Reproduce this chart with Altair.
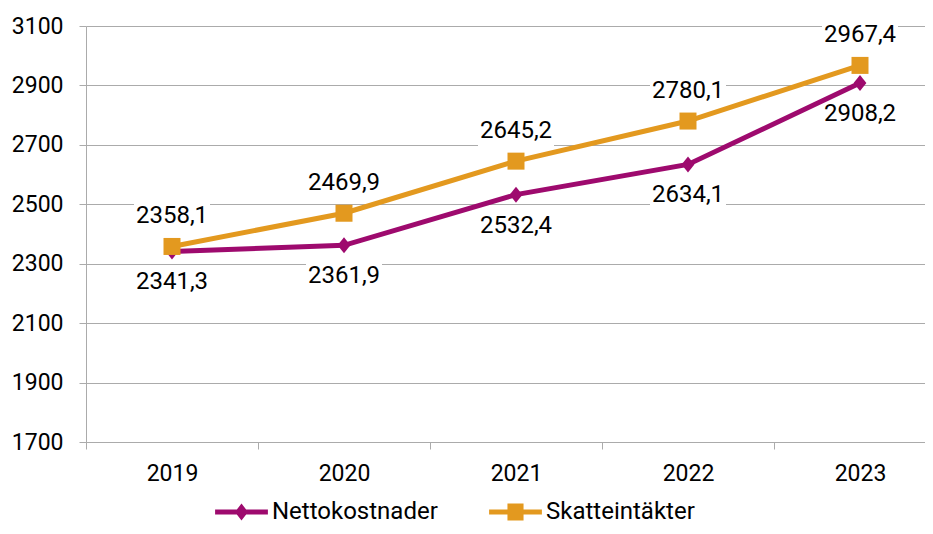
import altair as alt
import pandas as pd

# ---- data ----
years = [2019, 2020, 2021, 2022, 2023]
netto = [2341.3, 2361.9, 2532.4, 2634.1, 2908.2]
skatt = [2358.1, 2469.9, 2645.2, 2780.1, 2967.4]
series = ["Nettokostnader", "Skatteintäkter"]
colors = ["#9E0A6E", "#E3991F"]
y_ticks = [1700, 1900, 2100, 2300, 2500, 2700, 2900, 3100]


def fmt(v):
    return f"{v:.1f}".replace(".", ",")


df = pd.DataFrame({
    "year": years * 2,
    "value": netto + skatt,
    "series": [series[0]] * len(years) + [series[1]] * len(years),
})
df["label"] = df["value"].map(fmt)

W, H, BAND = 839, 416, 172
GRID = "#ABABAB"
FONT = "Roboto"

X = alt.X(
    "year:Q",
    title=None,
    scale=alt.Scale(domain=[2018.5, 2018.5 + W / BAND], nice=False, zero=False),
    axis=alt.Axis(
        values=years, format="d", tickOffset=-BAND / 2, labelOffset=BAND / 2,
        grid=False, domainColor=GRID, tickColor=GRID, tickSize=7, domainWidth=1,
        labelFont=FONT, labelFontSize=23, labelColor="#000", labelPadding=13,
    ),
)
Y = alt.Y(
    "value:Q",
    title=None,
    scale=alt.Scale(domain=[1700, 3100], nice=False, zero=False),
    axis=alt.Axis(
        values=y_ticks, format="d", grid=True, gridColor=GRID, gridWidth=1,
        domainColor=GRID, tickColor=GRID, tickSize=7,
        labelFont=FONT, labelFontSize=23, labelColor="#000", labelPadding=16,
    ),
)

BOX = "M-1,-0.4L1,-0.4L1,0.4L-1,0.4Z"
DIAMOND = "M0,-1L0.8,0L0,1L-0.8,0Z"
LEG_D = "M-2.2,-0.2L2.2,-0.2L2.2,0.2L-2.2,0.2Z M0,-0.7L0.55,0L0,0.7L-0.55,0Z"
LEG_S = "M-2.2,-0.2L2.2,-0.2L2.2,0.2L-2.2,0.2Z M-0.67,-0.7L0.67,-0.7L0.67,0.7L-0.67,0.7Z"

base = alt.Chart(df)
layers = []

specs = [
    (series[0], colors[0], DIAMOND, 256, 31),
    (series[1], colors[1], "square", 289, -30),
]

# white label boxes (under the lines)
for name, col, shp, sz, off in specs:
    layers.append(
        base.transform_filter(alt.datum.series == name)
        .mark_point(shape=BOX, size=5776, filled=True, color="white", opacity=1,
                    strokeWidth=0, yOffset=off)
        .encode(x=X, y=Y)
    )

for name, col, shp, sz, off in specs:
    sub = base.transform_filter(alt.datum.series == name)
    layers.append(sub.mark_line(color=col, strokeWidth=5).encode(x=X, y=Y))
    layers.append(
        sub.mark_point(shape=shp, size=sz, filled=True, color=col, opacity=1, strokeWidth=0)
        .encode(x=X, y=Y)
    )

for name, col, shp, sz, off in specs:
    layers.append(
        base.transform_filter(alt.datum.series == name)
        .mark_text(font=FONT, fontSize=24, color="#000", dy=off, baseline="middle")
        .encode(x=X, y=Y, text="label:N")
    )

leg = dict(
    title=None, orient="none", legendX=143.5, legendY=474, direction="horizontal",
    labelFont=FONT, labelFontSize=24, labelColor="#000", symbolSize=576,
    labelOffset=18.5, columnPadding=50, symbolStrokeWidth=0, symbolOpacity=1,
    labelLimit=400,
)
layers.append(
    base.transform_filter("false")
    .mark_point(filled=True, opacity=1)
    .encode(
        x=X, y=Y,
        color=alt.Color("series:N", scale=alt.Scale(domain=series, range=colors),
                        legend=alt.Legend(**leg)),
        shape=alt.Shape("series:N", scale=alt.Scale(domain=series, range=[LEG_D, LEG_S]),
                        legend=alt.Legend(**leg)),
    )
)

chart = (
    alt.layer(*layers)
    .properties(
        width=W, height=H,
        autosize=alt.AutoSizeParams(type="none"),
        padding={"left": 78, "top": 18, "right": 0, "bottom": 84},
        background="white",
    )
    .configure_view(stroke=None)
)

chart.save("out.html", embed_options={"renderer": "svg", "actions": False})
